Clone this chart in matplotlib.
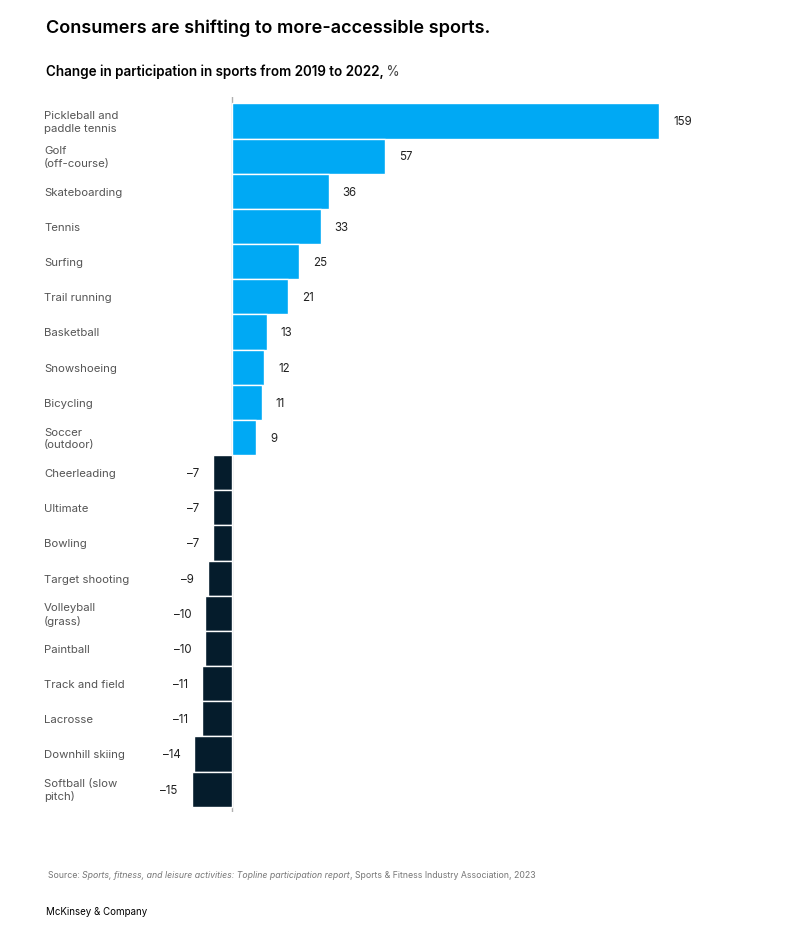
import matplotlib
matplotlib.use("Agg")
import matplotlib.pyplot as plt

plt.rcParams["font.family"] = ["Inter", "DejaVu Sans"]

sports = [
    "Pickleball and\npaddle tennis", "Golf\n(off-course)", "Skateboarding", "Tennis",
    "Surfing", "Trail running", "Basketball", "Snowshoeing", "Bicycling",
    "Soccer\n(outdoor)", "Cheerleading", "Ultimate", "Bowling", "Target shooting",
    "Volleyball\n(grass)", "Paintball", "Track and field", "Lacrosse",
    "Downhill skiing", "Softball (slow\npitch)",
]
change = [159, 57, 36, 33, 25, 21, 13, 12, 11, 9,
          -7, -7, -7, -9, -10, -10, -11, -11, -14, -15]

W, H = 810, 932
fig = plt.figure(figsize=(W / 100, H / 100), dpi=100)

# axes placed in pixel coordinates
ax_left, ax_right, ax_top, ax_bottom = 185, 760, 97, 812
ax = fig.add_axes([ax_left / W, 1 - ax_bottom / H,
                   (ax_right - ax_left) / W, (ax_bottom - ax_top) / H])

px_per_unit = (659 - 232) / 159
ax.set_xlim((ax_left - 232) / px_per_unit, (ax_right - 232) / px_per_unit)
ax.set_ylim(len(sports) - 0.5 + 0.15, -0.5 - 0.18)

colors = ["#00A9F4" if v > 0 else "#051C2C" for v in change]
ypos = list(range(len(sports)))
ax.barh(ypos, change, height=1.0, color=colors, edgecolor="white", linewidth=1.0, zorder=2)
ax.axvline(0, color="#b0b0b0", linewidth=1.0, zorder=1)

dy = 0.04  # nudge text down a little
for y, v in zip(ypos, change):
    if v > 0:
        ax.text(v + 14 / px_per_unit, y + dy, f"{v}", ha="left", va="center",
                fontsize=8.3, color="#222222")
    else:
        ax.text(v - 14 / px_per_unit, y + dy, f"\u2013{abs(v)}", ha="right", va="center",
                fontsize=8.3, color="#222222")

lab_tr = matplotlib.transforms.blended_transform_factory(fig.transFigure, ax.transData)
for y, name in zip(ypos, sports):
    ax.text(44 / W, y + dy, name, transform=lab_tr, ha="left", va="center",
            fontsize=8.2, color="#555555", linespacing=1.3)

for s in ax.spines.values():
    s.set_visible(False)
ax.set_xticks([])
ax.set_yticks([])

fig.text(46 / W, 1 - 28 / H, "Consumers are shifting to more-accessible sports.",
         fontsize=13.05, fontweight="semibold", color="#000000", va="center", ha="left")


def chain(x_px, y_px, parts, size, color):
    renderer = fig.canvas.get_renderer()
    x = x_px
    for txt, style, c in parts:
        kw = {}
        if style == "bold":
            kw["fontweight"] = "semibold"
        if style == "italic":
            kw["fontstyle"] = "italic"
        t = fig.text(x / W, 1 - y_px / H, txt, fontsize=size, color=c or color,
                     va="center", ha="left", **kw)
        bb = t.get_window_extent(renderer=renderer)
        x += bb.width


chain(46, 72, [("Change in participation in sports from 2019 to 2022,", "bold", None),
               ("\u2009%", "normal", "#444444")], 9.7, "#000000")
chain(48, 876, [("Source: ", "normal", None),
                ("Sports, fitness, and leisure activities: Topline participation report", "italic", None),
                (", Sports & Fitness Industry Association, 2023", "normal", None)], 6.3, "#777777")
fig.text(46 / W, 1 - 912 / H, "McKinsey & Company", fontsize=7.0, color="#000000",
         va="center", ha="left")

fig.savefig("out.png", dpi=100)
